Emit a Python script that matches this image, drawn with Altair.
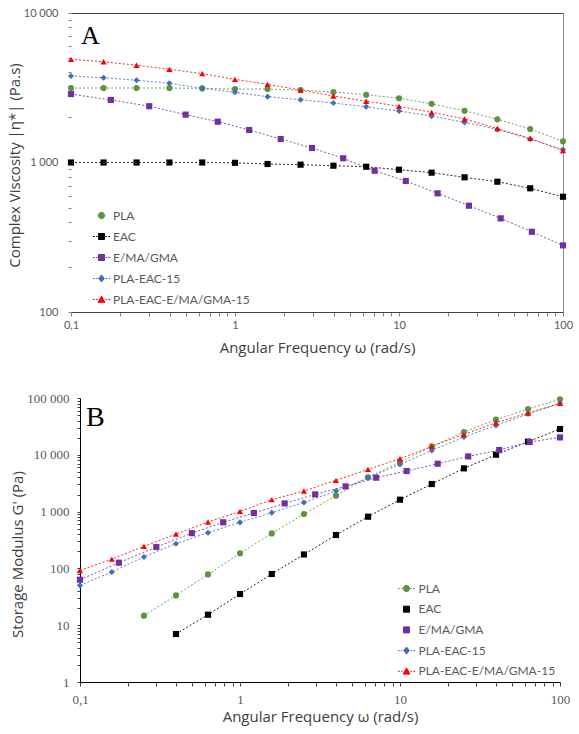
import altair as alt
import pandas as pd

# ---------------- data ----------------
series = ["PLA", "EAC", "E/MA/GMA", "PLA-EAC-15", "PLA-EAC-E/MA/GMA-15"]
colors = ["#5e9441", "#000000", "#7030a0", "#4170b8", "#ff0000"]
shapes = ["circle", "square", "square", "diamond", "triangle-up"]

freq = [0.1, 0.158, 0.251, 0.398, 0.631, 1.0, 1.58, 2.51, 3.98, 6.31, 10.0, 15.8, 25.1, 39.8, 63.1, 100.0]
freq_emagma = [0.1, 0.175, 0.3, 0.5, 0.785, 1.22, 1.9, 2.95, 4.57, 7.1, 11.0, 17.2, 26.7, 41.7, 64.6, 100.0]

# Panel A: complex viscosity (Pa.s)
eta_pla = [3150, 3150, 3150, 3150, 3130, 3100, 3100, 3050, 2960, 2840, 2690, 2470, 2220, 1945, 1675, 1385]
eta_eac = [1000, 1000, 1000, 1000, 1000, 995, 977, 967, 952, 937, 895, 855, 796, 744, 672, 590]
eta_emagma = [2870, 2620, 2380, 2090, 1875, 1650, 1436, 1250, 1067, 881, 752, 622, 514, 423, 344, 279]
eta_pla_eac15 = [3790, 3690, 3550, 3390, 3135, 2950, 2755, 2630, 2500, 2360, 2210, 2045, 1855, 1665, 1435, 1220]
eta_blend = [4900, 4720, 4470, 4200, 3930, 3600, 3335, 3055, 2785, 2570, 2375, 2165, 1955, 1685, 1450, 1200]

# Panel B: storage modulus G' (Pa)
g_pla = [14.7, 33.5, 78.4, 184, 413, 907, 1905, 4000, 7470, 14060, 25200, 41500, 64000, 95000]
g_eac = [7.0, 15.3, 35.4, 79.7, 176, 387, 813, 1620, 3060, 5770, 10040, 17020, 28450]
g_emagma = [63.2, 126, 238, 417, 648, 945, 1394, 2009, 2778, 3954, 5185, 6970, 9370, 12150, 16800, 20240]
g_pla_eac15 = [50.2, 86.4, 159, 272, 425, 648, 957, 1452, 2305, 3954, 6776, 11950, 20560, 32950, 52300, 80400]
g_blend = [92, 146, 244, 403, 656, 1008, 1621, 2305, 3542, 5530, 8535, 14060, 22860, 36740, 54430, 80380]

x_major = [0.1, 1, 10, 100]
x_major_labels = ["0,1", "1", "10", "100"]
a_y_major = [100, 1000, 10000]
a_y_labels = ["100", "1 000", "10 000"]
b_y_major = [1, 10, 100, 1000, 10000, 100000]
b_y_labels = ["1", "10", "100", "1 000", "10 000", "100 000"]

x_title = "Angular Frequency ω (rad/s)"
a_title = "Complex Viscosity |η*| (Pa.s)"
b_title = "Storage Modulus G' (Pa)"


# ---------------- helpers ----------------
def make_df(xs_list, ys_list):
    rows = []
    for s, xs, ys in zip(series, xs_list, ys_list):
        xs = xs[len(xs) - len(ys):]
        for i, (x, y) in enumerate(zip(xs, ys)):
            rows.append({"series": s, "freq": x, "value": y, "order": i})
    return pd.DataFrame(rows)


def log_ticks(lo, hi):
    vals = []
    for e in range(lo, hi):
        for k in range(1, 10):
            vals.append(round(k * 10.0 ** e, 6))
    vals.append(round(10.0 ** hi, 6))
    return vals


def label_expr(values, texts):
    expr = "''"
    for v, t in zip(values, texts):
        expr = f"datum.value == {v} ? '{t}' : ({expr})"
    return expr


DASH = "M-0.85,0H-0.68M-0.54,0H-0.4M0.4,0H0.54M0.68,0H0.85"
MARK = {
    "circle": "M0.32,0A0.32,0.32 0 1,1 -0.32,0A0.32,0.32 0 1,1 0.32,0Z",
    "square": "M-0.3,-0.3H0.3V0.3H-0.3Z",
    "diamond": "M0,-0.36L0.28,0L0,0.36L-0.28,0Z",
    "triangle-up": "M0,-0.34L0.34,0.28H-0.34Z",
}


def legend_paths(with_dash):
    return [(DASH if d else "") + MARK[s] for s, d in zip(shapes, with_dash)]


def panel(df, ydom, ymaj, ylab, ytitle, tick_font, tick_size, tick_color,
          axis_color, w, h, letter, letter_size, lx, ly, lpos, dashes,
          ytitle_y, frame=False, ydomain_line=True, lab_off=1.5,
          x_shift=0, y_label_pad=7, row_pad=4, x_title_pad=10, x_label_pad=3):
    xs = alt.Scale(type="log", domain=[0.1, 100], nice=False, range=[x_shift, w])
    ys = alt.Scale(type="log", domain=ydom, nice=False)
    ylo = len(str(int(ydom[0]))) - 1
    yhi = len(str(int(ydom[1]))) - 1
    x_axis = alt.Axis(
        values=log_ticks(-1, 2), labelExpr=label_expr(x_major, x_major_labels),
        title=x_title, grid=False, tickSize=4, tickColor=tick_color,
        domainColor=axis_color, labelFont=tick_font, labelFontSize=tick_size,
        labelColor="#595959", labelFlush=False, labelOverlap=False,
        labelPadding=x_label_pad, titleFont="Open Sans", titleFontSize=15,
        titleFontWeight="normal", titleColor="#404040", titlePadding=x_title_pad,
    )
    y_axis = alt.Axis(
        values=log_ticks(ylo, yhi), labelExpr=label_expr(ymaj, ylab),
        title=ytitle, grid=False, tickSize=3, tickColor=tick_color,
        domain=ydomain_line, domainColor=axis_color, labelFont=tick_font,
        labelFontSize=tick_size, labelColor="#595959", labelFlush=False,
        labelOverlap=False, labelPadding=y_label_pad, titleFont="Open Sans",
        titleFontSize=15, titleFontWeight="normal", titleColor="#404040",
        titlePadding=1, offset=-x_shift, titleY=ytitle_y,
    )

    color = alt.Color("series:N", scale=alt.Scale(domain=series, range=colors), legend=None)

    if frame:
        lx_axis = alt.Axis(orient="top", labels=False, ticks=False, title=None,
                           grid=False, domainColor="#404040")
        ly_axis = alt.Axis(orient="right", labels=False, ticks=False, title=None,
                           grid=False, domainColor="#8c8c8c")
    else:
        lx_axis = None
        ly_axis = None

    lines = alt.Chart(df).mark_line(strokeDash=[2, 2], strokeWidth=1, opacity=0.85).encode(
        x=alt.X("freq:Q", scale=xs, axis=lx_axis),
        y=alt.Y("value:Q", scale=ys, axis=ly_axis),
        color=color,
        detail="series:N",
        order="order:Q",
    )
    points = alt.Chart(df).mark_point(filled=True, opacity=1, size=38).encode(
        x=alt.X("freq:Q", scale=xs, axis=x_axis),
        y=alt.Y("value:Q", scale=ys, axis=y_axis),
        color=color,
        shape=alt.Shape("series:N", scale=alt.Scale(domain=series, range=shapes), legend=None),
        order=alt.Order("order:Q"),
    )
    leg = alt.Legend(
        title=None, orient="none", legendX=lpos[0], legendY=lpos[1],
        symbolSize=400, symbolStrokeWidth=1, labelFont="Lato",
        labelFontSize=12, labelColor="#595959", rowPadding=row_pad,
        labelOffset=lab_off, padding=0,
    )
    legend_layer = alt.Chart(df).mark_point(filled=True, opacity=1).encode(
        x=alt.X("freq:Q", scale=xs, axis=None),
        y=alt.Y("value:Q", scale=ys, axis=None),
        fill=alt.Fill("series:N", scale=alt.Scale(domain=series, range=colors), legend=leg),
        stroke=alt.Stroke("series:N", scale=alt.Scale(domain=series, range=colors), legend=leg),
        shape=alt.Shape("series:N", scale=alt.Scale(domain=series, range=legend_paths(dashes)), legend=leg),
    ).transform_filter("false")
    text = alt.Chart(pd.DataFrame({"t": [letter]})).mark_text(
        font="Liberation Serif", fontSize=letter_size, align="left",
        baseline="alphabetic", color="#000000",
    ).encode(text="t:N", x=alt.value(lx), y=alt.value(ly))

    return alt.layer(lines, points, legend_layer, text).resolve_scale(
        shape="independent", fill="independent", stroke="independent"
    ).resolve_axis(x="independent", y="independent").properties(width=w, height=h)


df_a = make_df([freq, freq, freq_emagma, freq, freq],
               [eta_pla, eta_eac, eta_emagma, eta_pla_eac15, eta_blend])
df_b = make_df([freq, freq, freq_emagma, freq, freq],
               [g_pla, g_eac, g_emagma, g_pla_eac15, g_blend])

top = panel(df_a, [100, 10000], a_y_major, a_y_labels, a_title, "Lato", 11,
            "#7f7f7f", "#404040", 492, 299, "A", 26, 10, 31, (20, 192),
            [False, True, True, True, True], ytitle_y=152, frame=True,
            ydomain_line=False, lab_off=1, y_label_pad=10, row_pad=4,
            x_title_pad=10, x_label_pad=3)
bottom = panel(df_b, [1, 100000], b_y_major, b_y_labels, b_title,
               "Liberation Serif", 13, "#404040", "#000000", 489, 284, "B", 28,
               15, 28, (325, 180), [True, False, False, True, True], ytitle_y=156,
               lab_off=1.5, x_shift=9, y_label_pad=8, row_pad=3.7, x_title_pad=3,
               x_label_pad=7)

chart = alt.vconcat(top, bottom, spacing=37).properties(
    padding={"left": 7, "top": 7, "right": 5, "bottom": 5}
).configure_view(stroke=None)

chart.save("out.html", embed_options={"renderer": "svg", "actions": False})
